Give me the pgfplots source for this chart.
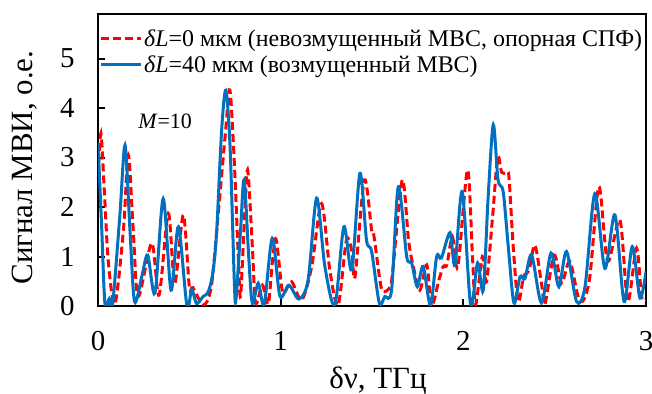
\documentclass[border=0pt]{standalone}
\usepackage{fontspec}
\setmainfont{Liberation Serif}
\usepackage{pgfplots}
\pgfplotsset{compat=1.18}
\definecolor{mred}{HTML}{FF0000}
\definecolor{mblue}{HTML}{0070C0}
\begin{document}
\begin{tikzpicture}
\useasboundingbox (0,0) rectangle (652bp,394bp);
\begin{axis}[
 at={(98bp,88bp)}, anchor=south west,
 scale only axis, width=548bp, height=292bp,
 xmin=0, xmax=3, ymin=0, ymax=5.9,
 xtick={0,1,2,3}, ytick={0,1,2,3,4,5},
 tick align=inside, xtick pos=left, ytick pos=left,
 major tick length=7bp,
 tick style={black, line width=2bp},
 axis line style={black, line width=2.2bp},
 /pgf/number format/assume math mode=true,
 ticklabel style={font=\fontsize{29}{33}\selectfont},
 yticklabel style={xshift=-20bp},
 xticklabel style={yshift=-22bp},
 xlabel={δν, ТГц}, ylabel={Сигнал МВИ, о.е.},
 label style={font=\fontsize{31}{35}\selectfont},
 xlabel style={at={(axis description cs:0.511,-0.281)}, anchor=base},
 ylabel style={at={(axis description cs:-0.12,0.474)}, anchor=base},
 legend style={at={(0.0,0.955)}, anchor=north west, draw=none, fill=none,
   font=\fontsize{24}{28}\selectfont, inner xsep=1bp, inner ysep=0pt,
   row sep=4bp, cells={anchor=west}},
 legend image code/.code={\draw[#1] (0bp,0bp) -- (40bp,0bp);},
]
\addplot[mred, line width=3bp, dash pattern=on 8bp off 4bp, smooth, tension=0.5] coordinates {
(0,2.65) (0.016,3.49) (0.035,2.3) (0.057,0.87) (0.093,0.04) (0.139,1.53) (0.166,3.05)
(0.193,1.53) (0.22,0.19) (0.294,1.27) (0.334,0.22) (0.385,1.87) (0.42,0.46) (0.467,1.84)
(0.5,0.39) (0.52,0.37) (0.577,0.02) (0.62,0.39) (0.66,1.94) (0.70,3.6) (0.722,4.36)
(0.745,3.0) (0.768,1.0) (0.78,0.19) (0.80,1.6) (0.819,2.75) (0.845,1.2) (0.863,0.06)
(0.9,0.42) (0.932,0.04) (0.955,0.9) (0.975,1.35) (1.005,0.39) (1.02,0.26) (1.06,0.49)
(1.115,0.12) (1.17,0.8) (1.224,2.07) (1.27,0.7) (1.315,0.02) (1.36,1.33) (1.39,1.1)
(1.407,0.59) (1.458,2.55) (1.498,1.53) (1.51,1.43) (1.543,0.53) (1.56,0.29) (1.6,0.39)
(1.616,0.8) (1.666,2.55) (1.7,1.33) (1.726,0.8) (1.762,0.32) (1.8,0.83) (1.826,0.0)
(1.866,0.52) (1.89,0.8) (1.91,0.83) (1.94,1.4) (1.97,0.8) (2.023,2.75) (2.05,1.0)
(2.067,0.02) (2.104,1.0) (2.127,0.49) (2.16,1.8) (2.188,3.0) (2.21,2.7) (2.237,2.68)
(2.25,2.6) (2.273,1.2) (2.3,0.09) (2.33,0.59) (2.36,0.73) (2.392,1.23) (2.43,0.4)
(2.447,0.04) (2.497,1.03) (2.538,0.46) (2.583,0.9) (2.638,0.09) (2.69,0.52) (2.742,2.41)
(2.79,0.9) (2.857,1.74) (2.9,0.09) (2.948,1.17) (2.976,0.19) (3.0,0.12)
};
\addlegendentry{\textit{δL}=0 мкм (невозмущенный МВС, опорная СПФ)}
\addplot[mblue, line width=3bp, smooth, tension=0.5] coordinates {
(0,3.30) (0.02,1.6) (0.038,0.05) (0.062,0.15) (0.08,0.03) (0.12,1.85) (0.148,3.25)
(0.175,1.53) (0.2,0.09) (0.24,0.6) (0.272,1.03) (0.312,0.26) (0.357,2.17) (0.4,0.32)
(0.44,1.6) (0.487,0.0) (0.513,0.33) (0.54,0.05) (0.575,0.19) (0.604,0.29) (0.63,0.7)
(0.65,1.53) (0.677,3.56) (0.70,4.36) (0.723,3.22) (0.746,0.53) (0.755,0.12) (0.78,1.5)
(0.80,2.55) (0.825,1.0) (0.845,0.05) (0.877,0.46) (0.91,0.03) (0.954,1.37) (0.996,0.2)
(1.045,0.42) (1.1,0.14) (1.15,0.52) (1.197,2.18) (1.242,0.8) (1.297,0.02) (1.346,1.6)
(1.389,0.73) (1.434,2.68) (1.47,1.33) (1.498,1.1) (1.54,0.06) (1.57,0.19) (1.607,0.32)
(1.644,2.41) (1.69,1.0) (1.717,0.87) (1.748,0.39) (1.78,0.8) (1.82,0.02) (1.854,1.0)
(1.88,0.97) (1.927,1.48) (1.954,0.83) (1.994,2.31) (2.04,0.02) (2.078,0.87) (2.109,0.32)
(2.136,2.21) (2.164,3.66) (2.19,2.55) (2.218,2.31) (2.246,1.2) (2.277,0.06) (2.31,0.59)
(2.337,0.55) (2.374,1.03) (2.428,0.06) (2.48,1.07) (2.523,0.39) (2.565,1.1) (2.62,0.09)
(2.666,0.39) (2.72,2.27) (2.775,0.76) (2.83,1.84) (2.88,0.09) (2.925,1.2) (2.967,0.16)
(3.0,0.7)
};
\addlegendentry{\textit{δL}=40 мкм (возмущенный МВС)}
\node[font=\fontsize{22}{26}\selectfont] at (axis cs:0.367,3.74) {\textit{M}=10};
\end{axis}
\end{tikzpicture}
\end{document}
